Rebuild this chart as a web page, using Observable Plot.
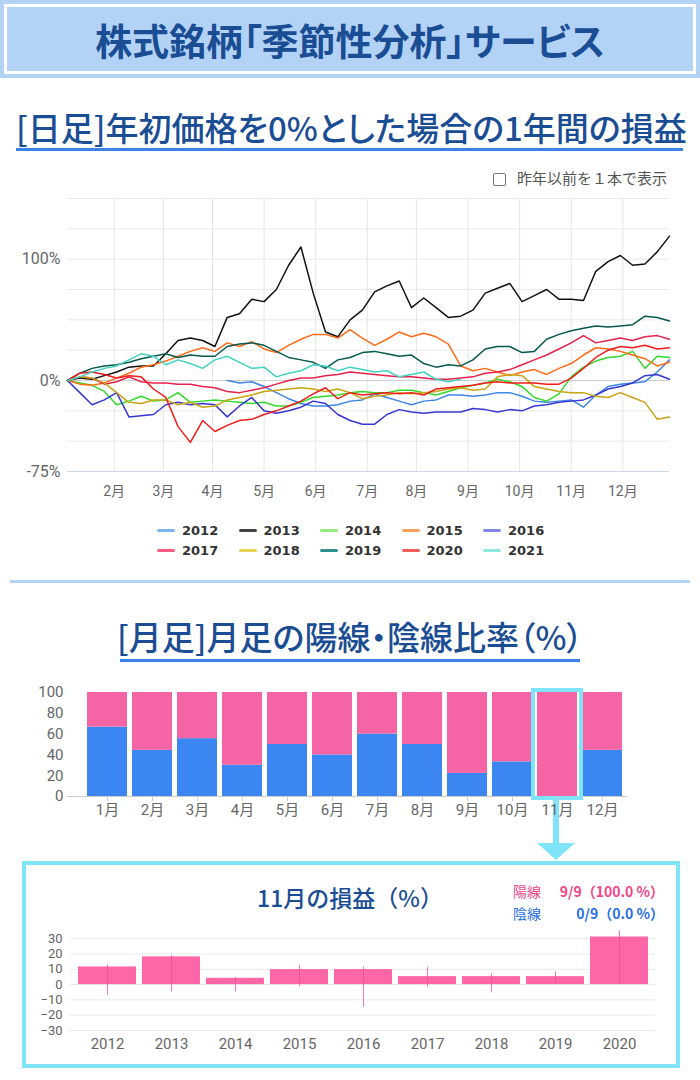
<!DOCTYPE html>
<html lang="ja">
<head>
<meta charset="utf-8">
<script src="https://cdn.jsdelivr.net/npm/d3@7"></script>
<script src="https://cdn.jsdelivr.net/npm/@observablehq/plot@0.6"></script>
<style>
html,body{margin:0;padding:0;background:#fff;}
#page{position:relative;width:700px;height:1080px;overflow:hidden;font-family:"Noto Sans CJK JP","Noto Sans",sans-serif;}
.abs{position:absolute;}
.chart svg{display:block;}
.hdr{left:0;top:0;width:700px;height:78px;background:#b3d3f6;}
.hdr-inner{left:4px;top:4px;width:692px;height:70px;box-sizing:border-box;border:3px solid #fff;}
.hdr-title{left:0;top:0;width:700px;height:80px;display:flex;align-items:center;justify-content:center;font-size:37px;font-weight:700;color:#1b4d94;font-feature-settings:"palt";}
.sec{color:#1b4d94;font-size:33px;font-weight:500;white-space:nowrap;font-feature-settings:"palt";line-height:1;}
.uline{background:#3b82e8;height:3px;}
.cb{left:493px;top:173px;width:13px;height:13px;box-sizing:border-box;border:1px solid #777;border-radius:2px;background:#fff;}
.cbt{left:517px;top:170px;font-size:15px;color:#555;line-height:1;white-space:nowrap;}
.leg{display:flex;align-items:center;font-family:"DejaVu Sans",sans-serif;font-weight:bold;font-size:13px;color:#333;line-height:1;}
.leg i{display:inline-block;width:18px;height:3px;border-radius:2px;margin-right:7px;}
.sep{left:10px;top:580px;width:680px;height:3px;background:#b3d4f5;}
.box{left:22px;top:861px;width:658px;height:207px;box-sizing:border-box;border:4px solid #7fe4f8;}
.conn{left:553px;top:798px;width:6px;height:46px;background:#7fe4f8;}
.tri{left:537px;top:843px;width:0;height:0;border-left:19px solid transparent;border-right:19px solid transparent;border-top:17px solid #7fe4f8;}
.subt{left:0;top:886px;width:700px;text-align:center;font-size:23px;color:#1b4d94;font-weight:500;line-height:1;}
.info{font-size:14px;line-height:1;white-space:nowrap;}
</style>
</head>
<body>
<div id="page">
  <div class="abs hdr"></div>
  <div class="abs hdr-inner"></div>
  <div class="abs hdr-title">株式銘柄「季節性分析」サービス</div>

  <div class="abs sec" style="left:16px;top:111px;">[日足]年初価格を0%とした場合の1年間の損益</div>
  <div class="abs uline" style="left:16px;top:148px;width:667px;"></div>

  <div class="abs cb"></div>
  <div class="abs cbt">昨年以前を１本で表示</div>

  <div class="abs chart" id="lineChart" style="left:0;top:185px;"></div>
  <div id="legend"></div>

  <div class="abs sep"></div>

  <div class="abs sec" style="left:0;top:620px;width:700px;text-align:center;">[月足]月足の陽線・陰線比率（%）</div>
  <div class="abs uline" style="left:120px;top:659px;width:460px;"></div>

  <div class="abs conn"></div>
  <div class="abs tri"></div>
  <div class="abs chart" id="barChart" style="left:0;top:680px;"></div>

  <div class="abs box"></div>

  <div class="abs subt">11月の損益（%）</div>
  <div class="abs info" style="left:513px;top:884px;color:#f0468b;">陽線</div>
  <div class="abs info" style="right:36px;top:884px;color:#f0468b;font-weight:bold;">9/9（100.0 %）</div>
  <div class="abs info" style="left:513px;top:906px;color:#2a6fe8;">陰線</div>
  <div class="abs info" style="right:36px;top:906px;color:#2a6fe8;font-weight:bold;">0/9（0.0 %）</div>

  <div class="abs chart" id="novChart" style="left:0;top:920px;"></div>
</div>

<script>
// ---------- Line chart data (年初比 %, sampled every 5 trading days) ----------
const years = ["2012","2013","2014","2015","2016","2017","2018","2019","2020","2021"];
const lineColors = ["#3f86e6","#111111","#33d92b","#ff6b17","#3636d4","#e8204c","#c9a412","#05594d","#f21c1c","#43d1c2"];
const legendColors = ["#7cb5ec","#434348","#90ed7d","#f7a35c","#8085e9","#f15c80","#e4d354","#2b908f","#f45b5b","#91e8e1"];
const tradingDays = [0,5,10,15,20,25,30,35,40,45,50,55,60,65,70,75,80,85,90,95,100,105,110,115,120,125,130,135,140,145,150,155,160,165,170,175,180,185,190,195,200,205,210,215,220,225,230,235,240,245];

const pl2012 = [null,null,null,null,null,null,null,null,null,null,null,null,null,0,-2,-1,-5,-10,-15,-19,-21,-21,-20,-17,-16,-11,-14,-17,-20,-17,-16,-12,-12,-13,-12,-10,-10,-13,-17,-18,-17,-16,-22,-12,-5,-3,-2,-1,7,17];
const pl2013 = [0,2,1,4,7,11,12,12,22,33,35,33,28,52,55,67,65,75,95,110,72,40,36,50,58,73,78,82,60,68,60,52,53,58,72,76,80,65,70,75,67,67,66,90,98,103,95,96,106,119];
const pl2014 = [0,-2,-4,-9,-20,-17,-13,-17,-16,-10,-18,-17,-16,-17,-18,-19,-18,-21,-21,-18,-14,-13,-12,-10,-9,-10,-10,-8,-8,-10,-12,-9,-6,-4,-2,1,-1,-5,-14,-17,-11,3,11,16,19,20,24,10,20,19];
const pl2015 = [0,-3,-4,-2,2,6,11,13,16,20,24,27,24,31,28,32,26,23,29,34,38,38,35,42,35,29,34,40,36,39,36,30,12,8,10,7,4,7,9,5,10,14,21,27,26,24,21,18,12,15];
const pl2016 = [0,-10,-20,-16,-10,-30,-29,-28,-20,-18,-20,-19,-20,-30,-21,-14,-25,-27,-25,-22,-17,-19,-28,-33,-36,-36,-28,-24,-26,-27,-26,-26,-26,-23,-24,-26,-24,-25,-21,-20,-18,-17,-16,-12,-7,-5,-2,4,5,1];
const pl2017 = [0,3,2,-3,-1,3,-1,-2,-2,-3,-3,-5,-6,-9,-10,-8,-6,-3,0,2,2,4,5,7,6,5,4,3,3,2,1,1,2,3,6,7,9,13,17,21,26,31,37,31,33,35,33,36,37,34];
const pl2018 = [0,3,2,-2,-10,-18,-19,-16,-16,-20,-18,-22,-21,-16,-14,-12,-9,-8,-7,-6,-7,-9,-7,-10,-15,-13,-12,-10,-11,-10,-9,-7,-6,-8,-7,3,5,4,-5,-7,-9,-10,-10,-13,-14,-10,-14,-18,-32,-30];
const pl2019 = [0,6,10,12,13,15,18,20,22,19,21,20,20,28,30,31,29,24,19,17,15,10,17,19,23,24,22,20,21,14,11,13,12,17,26,28,28,23,24,34,38,41,43,45,44,45,46,53,52,49];
const pl2020 = [0,6,7,5,2,4,3,-7,-14,-38,-51,-33,-42,-37,-33,-32,-28,-25,-21,-17,-11,-6,-15,-10,-12,-11,-10,-11,-10,-12,-7,-6,-5,-4,-2,-1,-2,-2,-2,-3,-3,2,10,19,25,28,27,29,26,27];
const pl2021 = [0,3,7,10,12,17,22,20,13,17,14,10,17,20,15,10,11,3,6,8,13,12,8,11,9,7,8,3,5,7,1,-1,1];

const monthTickDays = [19,39,59,80,101,122,142,163,184,205,226];
const monthTickLabels = ["2月","3月","4月","5月","6月","7月","8月","9月","10月","11月","12月"];
const yLabelTicks = [-75,0,100];
const yGridTicks = [-75,-50,-25,0,25,50,75,100,125,150];

// ---------- Monthly up/down ratio ----------
const months = ["1月","2月","3月","4月","5月","6月","7月","8月","9月","10月","11月","12月"];
const downPct = [66.7,44.4,55.6,30,50,40,60,50,22.2,33.3,0,44.4];   // 陰線 (blue)
const upPct   = [33.3,55.6,44.4,70,50,60,40,50,77.8,66.7,100,55.6]; // 陽線 (pink)
const highlightMonth = "11月";

// ---------- November P/L per year ----------
const novYears = ["2012","2013","2014","2015","2016","2017","2018","2019","2020"];
const novClose = [11.5,18.1,4.1,9.8,9.8,5.2,5.2,5.2,31.1];
const novHigh  = [13.0,19.2,4.8,12.6,11.5,11.3,7.2,8.3,35.2];
const novLow   = [-7.0,-4.8,-4.8,-1.3,-14.8,-1.7,-5.4,0,0];

const baseStyle = {fontFamily: 'Roboto,"Noto Sans CJK JP","Noto Sans",sans-serif', fontSize: "15px", color: "#666", background: "transparent"};

// ---------- Build line chart ----------
const series = [pl2012,pl2013,pl2014,pl2015,pl2016,pl2017,pl2018,pl2019,pl2020,pl2021];
const lineRows = [];
series.forEach((vals, i) => vals.forEach((v, j) => {
  if (v !== null && v !== undefined) lineRows.push({year: years[i], day: tradingDays[j], pct: v});
}));
const monthLabelMap = new Map(monthTickDays.map((d, i) => [d, monthTickLabels[i]]));

const lineChart = Plot.plot({
  width: 700, height: 320,
  marginLeft: 67, marginRight: 31, marginTop: 13, marginBottom: 34,
  x: {domain: [0, 245]},
  y: {domain: [-75, 150]},
  color: {domain: years, range: lineColors},
  style: baseStyle,
  marks: [
    Plot.gridY(yGridTicks, {stroke: "#e9e9e9", strokeOpacity: 1}),
    Plot.gridX(monthTickDays, {stroke: "#e6e6e6", strokeOpacity: 1}),
    Plot.ruleY([0], {stroke: "#cfcfcf"}),
    Plot.ruleY([-75], {stroke: "#ccd6eb"}),
    Plot.axisY(yLabelTicks, {tickFormat: d => d + "%", tickSize: 0, tickPadding: 7, fontSize: 16, label: null}),
    Plot.axisX(monthTickDays, {tickFormat: d => monthLabelMap.get(d), tickSize: 0, tickPadding: 15, fontSize: 14, label: null}),
    Plot.line(lineRows, {x: "day", y: "pct", z: "year", stroke: "year", strokeWidth: 1.5})
  ]
});
document.getElementById("lineChart").appendChild(lineChart);

// legend
const legendEl = document.getElementById("legend");
years.forEach((y, i) => {
  const col = i % 5, row = Math.floor(i / 5);
  const item = document.createElement("div");
  item.className = "abs leg";
  item.style.left = (157 + col * 81.5) + "px";
  item.style.top = (524 + row * 20) + "px";
  item.innerHTML = `<i style="background:${legendColors[i]}"></i>${y}`;
  legendEl.appendChild(item);
});

// ---------- Build stacked bar chart ----------
const barRows = [];
months.forEach((m, i) => barRows.push({month: m, type: "陰線", value: downPct[i]}));
months.forEach((m, i) => barRows.push({month: m, type: "陽線", value: upPct[i]}));

const barChart = Plot.plot({
  width: 700, height: 150,
  marginLeft: 67, marginRight: 72, marginTop: 12, marginBottom: 34,
  x: {domain: months, paddingInner: 0.11, paddingOuter: 0.26, align: 0.76},
  y: {domain: [0, 100]},
  color: {domain: ["陰線","陽線"], range: ["#3b86f0","#f564a5"]},
  style: baseStyle,
  marks: [
    Plot.barY(barRows, {x: "month", y: "value", fill: "type"}),
    Plot.ruleY([0], {stroke: "#cccccc"}),
    Plot.barY([highlightMonth], {x: d => d, y1: 0, y2: 100, fill: "none", stroke: "#7fe4f8", strokeWidth: 4, insetLeft: -4, insetRight: -4, insetTop: -2, insetBottom: -2}),
    Plot.axisY([0,20,40,60,80,100], {tickSize: 0, tickPadding: 4, fontSize: 15, label: null}),
    Plot.axisX({tickSize: 5, tickPadding: 3, fontSize: 15, stroke: "#cccccc", fill: "#666", label: null})
  ]
});
document.getElementById("barChart").appendChild(barChart);

// ---------- Build November chart ----------
const novRows = novYears.map((y, i) => ({year: y, close: novClose[i], high: novHigh[i], low: novLow[i]}));
const novChart = Plot.plot({
  width: 700, height: 140,
  marginLeft: 70, marginRight: 45, marginTop: 9, marginBottom: 30,
  x: {domain: novYears, padding: 0.1},
  y: {domain: [-30, 36]},
  style: baseStyle,
  marks: [
    Plot.gridY([-30,-20,-10,0,10,20,30], {stroke: "#e9e9e9", strokeOpacity: 1}),
    Plot.barY(novRows, {x: "year", y: "close", fill: "#ff5ea2", fillOpacity: 0.95}),
    Plot.ruleX(novRows, {x: "year", y1: "low", y2: "high", stroke: "#e8528f", strokeOpacity: 0.75, strokeWidth: 1}),
    Plot.axisY([-30,-20,-10,0,10,20,30], {tickSize: 0, tickPadding: 8, fontSize: 13, label: null}),
    Plot.axisX({tickSize: 0, tickPadding: 8, fontSize: 15, label: null})
  ]
});
document.getElementById("novChart").appendChild(novChart);
</script>
</body>
</html>
